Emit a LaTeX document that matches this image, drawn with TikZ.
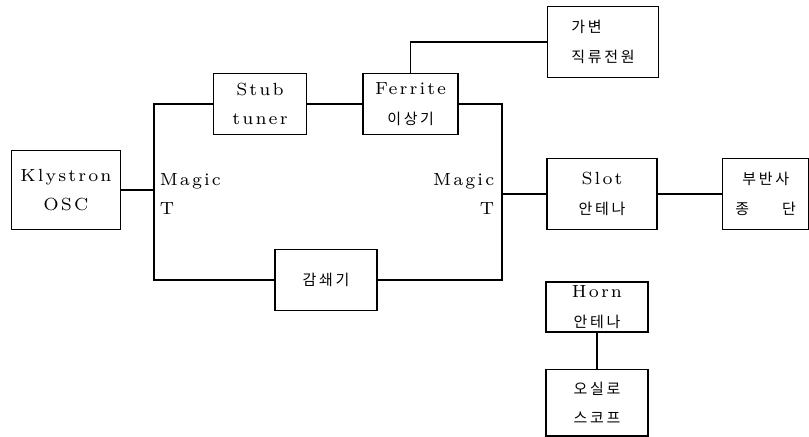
\documentclass[tikz,border=0pt]{standalone}
\usepackage{fontspec}
\setmainfont{Latin Modern Roman}[LetterSpace=12]
\newfontfamily\kr{Noto Sans CJK KR}[LetterSpace=18]
\usetikzlibrary{positioning}

\begin{document}
\begin{tikzpicture}[x=0.15mm, y=-0.15mm, line width=0.7pt, font=\fontsize{7.5}{12.5}\selectfont]
	\tikzstyle{rect}=[draw, rectangle, align=center, inner sep=0pt, minimum height=9.15mm]
	\tikzstyle{rect_b}=[draw, rectangle, align=center, inner sep=0pt, minimum height=10.65mm]
	\tikzstyle{lbl}=[inner sep=0pt]
	\newcommand{\kt}[1]{{\fontsize{6.4}{12.5}\kr #1}}

	\useasboundingbox (0,0) rectangle (809,437);

	\node[rect, minimum width=16.35mm, minimum height=11.85mm] (kly) at (66,190) {Klystron\\OSC};
	\node[rect, minimum width=13.95mm] (stub) at (260,104) {Stub\\tuner};
	\node[rect, minimum width=14.25mm] (fer) [right=8.25mm of stub] {Ferrite\\\kt{이상기}};
	\node[rect_b, minimum width=16.65mm, align=left] (vdc) at (603,42) {\kt{가변}\\\kt{직류전원}};
	\node[rect, minimum width=15.3mm] (att) at (326,280) {\kt{감쇄기}};
	\node[rect_b, minimum width=16.5mm] (slot) at (602,194) {Slot\\\kt{안테나}};
	\node[rect_b, minimum width=12.9mm] (term) [right=9.6mm of slot] {\kt{부반사}\\\kt{종\hspace{2.2em}단}};
	\node[rect, minimum width=15.3mm, minimum height=7.5mm] (horn) at (597,307) {Horn\\\kt{안테나}};
	\node[rect_b, minimum width=15.3mm, minimum height=10mm] (osc) [below=5.4mm of horn] {\kt{오실로}\\\kt{스코프}};

	\node[lbl, anchor=west, align=left] (magl) at (159,194) {Magic\\T};
	\node[lbl, anchor=east, align=right] (magr) at (495,194) {Magic\\T};

	\coordinate (lb) at (154,280);
	\coordinate (rb) at (502,280);

	\draw (kly.east) -- (kly.east -| lb);
	\draw (stub.west) -| (lb) -- (att.west);
	\draw (stub.east) -- (fer.west);
	\draw (fer.east) -| (rb) -- (att.east);
	\draw (fer.north) |- (vdc.west);
	\draw (slot.west -| rb) -- (slot.west);
	\draw (slot.east) -- (term.west);
	\draw (horn.south) -- (osc.north);
\end{tikzpicture}
\end{document}
